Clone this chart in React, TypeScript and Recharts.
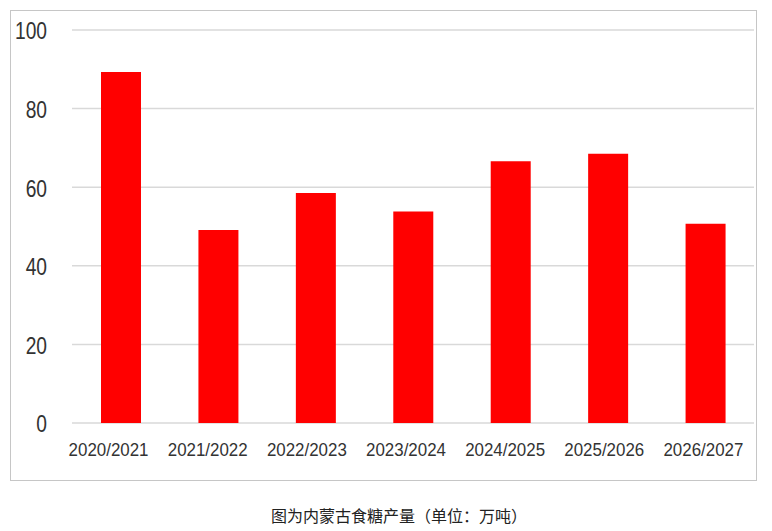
import React from "react";
import { BarChart, Bar, XAxis, YAxis, CartesianGrid } from "recharts";

const categories = ["2020/2021", "2021/2022", "2022/2023", "2023/2024", "2024/2025", "2025/2026", "2026/2027"];
const production = [89.3, 49.1, 58.5, 53.8, 66.6, 68.5, 50.7];
const yTicks = [0, 20, 40, 60, 80, 100];
const caption = "图为内蒙古食糖产量（单位：万吨）";

const data = categories.map((c, i) => ({ name: c, value: production[i] }));

const YTick = (props: any) => {
  const { x, y, payload } = props;
  return (
    <text
      x={x}
      y={y}
      dy={9.5}
      textAnchor="end"
      fill="#333"
      fontSize={24}
      fontFamily="'Liberation Sans', Arial, sans-serif"
      transform={`translate(${x},${y}) scale(0.8,1) translate(${-x},${-y})`}
    >
      {payload.value}
    </text>
  );
};

const XTick = (props: any) => {
  const { x, y, payload } = props;
  return (
    <text
      x={x}
      y={y}
      dy={12.8}
      textAnchor="middle"
      fill="#333"
      fontSize={18}
      fontFamily="'Liberation Sans', Arial, sans-serif"
      transform={`translate(${x},${y}) scale(0.94,1) translate(${-x},${-y})`}
    >
      {payload.value}
    </text>
  );
};

export default function App() {
  return (
    <div style={{ position: "absolute", left: 0, top: 0, width: 772, height: 531, background: "#fff" }}>
      <div
        style={{
          position: "absolute",
          left: 10,
          top: 10,
          width: 747,
          height: 471,
          boxSizing: "border-box",
          border: "1px solid #c6c6c6",
        }}
      />
      <div style={{ position: "absolute", left: 0, top: 0 }}>
        <BarChart
          width={772}
          height={531}
          data={data}
          margin={{ top: 30, right: 18, bottom: 68, left: 0 }}
          barCategoryGap={0}
        >
          <CartesianGrid vertical={false} stroke="#d9d9d9" strokeWidth={1.5} />
          <XAxis
            dataKey="name"
            height={0}
            tick={false}
            tickLine={false}
            axisLine={{ stroke: "#d9d9d9", strokeWidth: 2 }}
          />
          <XAxis
            xAxisId="labels"
            dataKey="name"
            height={40}
            padding={{ left: -13, right: 1 }}
            tickLine={false}
            axisLine={false}
            tickSize={0}
            tickMargin={20}
            interval={0}
            tick={<XTick />}
          />
          <YAxis
            width={72}
            domain={[0, 100]}
            ticks={yTicks}
            axisLine={false}
            tickLine={false}
            tickSize={0}
            tickMargin={25}
            tick={<YTick />}
          />
          <Bar dataKey="value" fill="#ff0000" barSize={40} isAnimationActive={false} />
        </BarChart>
      </div>
      <div
        style={{
          position: "absolute",
          left: 271,
          top: 507,
          whiteSpace: "nowrap",
          fontSize: 16,
          color: "#222",
          fontFamily: "'Noto Sans CJK SC', sans-serif",
          lineHeight: "16px",
        }}
      >
        {caption}
      </div>
    </div>
  );
}
